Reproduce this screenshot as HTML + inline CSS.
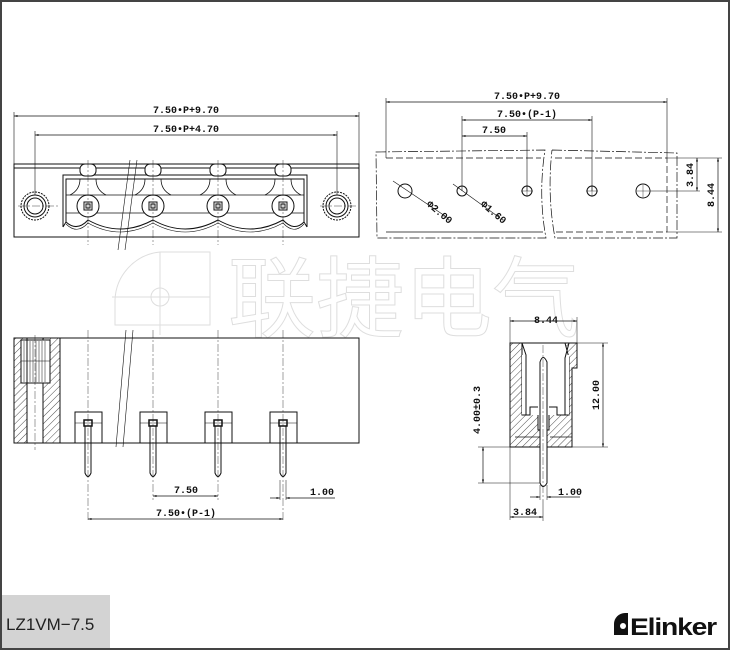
<!DOCTYPE html>
<html><head><meta charset="utf-8"><style>
html,body{margin:0;padding:0;background:#fff}
svg{display:block}
text{font-family:"Liberation Mono",monospace;font-weight:bold;font-size:10px;fill:#111}
</style></head><body>
<svg width="730" height="650" viewBox="0 0 730 650" xmlns="http://www.w3.org/2000/svg">
<defs>
<marker id="a" viewBox="0 0 10 10" refX="10" refY="5" markerWidth="7" markerHeight="5" orient="auto-start-reverse"><path d="M0,2 L10,5 L0,8z" fill="#111"/></marker>
<pattern id="h" width="5" height="5" patternUnits="userSpaceOnUse" patternTransform="rotate(45)"><line x1="0" y1="0" x2="0" y2="5" stroke="#222" stroke-width="0.8"/></pattern>
</defs>
<rect x="1" y="1" width="728" height="648" fill="none" stroke="#444" stroke-width="2"/>

<!-- watermark -->
<g fill="none" stroke="#dedede" stroke-width="1">
<path d="M115,325 L115,300 A50,50 0 0 1 160,252 L210,252 L210,325 Z"/>
<line x1="160" y1="252" x2="160" y2="335"/><line x1="112" y1="297" x2="210" y2="297"/>
<circle cx="160" cy="297" r="9"/>
</g>
<text x="228" y="330" style="font-family:'Noto Sans CJK SC',sans-serif;font-size:88px;font-weight:normal;fill:#fff;stroke:#dedede;stroke-width:1">联捷电气</text>

<g stroke="#111" fill="none" stroke-width="1">
<!-- TOP LEFT VIEW -->
<line x1="14" y1="116" x2="359" y2="116" marker-start="url(#a)" marker-end="url(#a)" stroke-width="0.7"/>
<line x1="35" y1="135" x2="337" y2="135" marker-start="url(#a)" marker-end="url(#a)" stroke-width="0.7"/>
<line x1="14" y1="112" x2="14" y2="164" stroke-width="0.6"/><line x1="359" y1="112" x2="359" y2="164" stroke-width="0.6"/>
<line x1="35" y1="131" x2="35" y2="195" stroke-width="0.6"/><line x1="337" y1="131" x2="337" y2="195" stroke-width="0.6"/>
<rect x="14" y="164" width="345" height="73"/>
<line x1="14" y1="168" x2="359" y2="168"/>
<path d="M63,227 L63,175 L307,175 L307,227"/>
<path d="M66,222 L66,179 L304,179 L304,222"/>
<line x1="66" y1="195" x2="304" y2="195" stroke-width="0.7"/>
<line x1="66" y1="213" x2="304" y2="213" stroke-width="0.7"/>
<path d="M63,227 L66,222 Q77,232 88,220 M88,220 Q120,238 153,220 Q185,238 218,220 Q250,238 283,220 Q294,232 304,222 L307,227" />
<path d="M66,224 Q77,235 88,223 Q120,241 153,223 Q185,241 218,223 Q250,241 283,223 Q294,235 304,224" stroke-width="0.6"/>
<g id="p1">
<rect x="80" y="164" width="16" height="12" rx="5" fill="#fff"/>
<path d="M80,179 Q80,190 70,195" stroke-width="0.8"/><path d="M96,179 Q96,190 106,195" stroke-width="0.8"/>
<circle cx="88" cy="206" r="11" fill="#fff"/><rect x="84" y="202" width="8" height="8"/><rect x="86" y="204" width="4" height="4"/>
</g>
<use href="#p1" x="65"/><use href="#p1" x="130"/><use href="#p1" x="195"/>
<circle cx="35" cy="206" r="14" stroke-dasharray="2,1"/><circle cx="35" cy="206" r="11"/><circle cx="35" cy="206" r="8"/>
<circle cx="337" cy="206" r="14" stroke-dasharray="2,1"/><circle cx="337" cy="206" r="11"/><circle cx="337" cy="206" r="8"/>
<g stroke-width="0.4" stroke-dasharray="8,2,2,2">
<line x1="88" y1="160" x2="88" y2="245"/><line x1="153" y1="160" x2="153" y2="245"/><line x1="218" y1="160" x2="218" y2="245"/><line x1="283" y1="160" x2="283" y2="245"/>
<line x1="18" y1="206" x2="60" y2="206"/><line x1="320" y1="206" x2="356" y2="206"/>
</g>
<path d="M130,160 L118,250 M137,160 L125,250" stroke-width="0.6"/>

<!-- TOP RIGHT VIEW -->
<line x1="386" y1="102" x2="667" y2="102" marker-start="url(#a)" marker-end="url(#a)" stroke-width="0.7"/>
<line x1="462" y1="120" x2="592" y2="120" marker-start="url(#a)" marker-end="url(#a)" stroke-width="0.7"/>
<line x1="462" y1="136" x2="527" y2="136" marker-start="url(#a)" marker-end="url(#a)" stroke-width="0.7"/>
<line x1="386" y1="98" x2="386" y2="158" stroke-width="0.6"/><line x1="667" y1="98" x2="667" y2="158" stroke-width="0.6"/>
<line x1="462" y1="116" x2="462" y2="191" stroke-width="0.6"/><line x1="592" y1="116" x2="592" y2="191" stroke-width="0.6"/>
<line x1="527" y1="132" x2="527" y2="191" stroke-width="0.6"/>
<path d="M376,152 L545,150 Q538,195 546,238 L377,238 Z" stroke-dasharray="10,2,2,2" stroke-width="0.7"/>
<path d="M552,150 L677,153 L677,238 L555,238 Q547,195 552,150" stroke-dasharray="10,2,2,2" stroke-width="0.7"/>
<path d="M386,158 L541,158 M555,158 L667,158 L667,232 L554,232 M543,232 L386,232 Z" stroke-dasharray="7,3" stroke-width="0.7"/>
<circle cx="405" cy="191" r="7"/><circle cx="462" cy="191" r="5"/><circle cx="527" cy="191" r="5"/><circle cx="592" cy="191" r="5"/><circle cx="643" cy="191" r="7"/>
<g stroke-width="0.4"><line x1="521" y1="191" x2="533" y2="191"/><line x1="527" y1="185" x2="527" y2="197"/><line x1="586" y1="191" x2="598" y2="191"/><line x1="592" y1="185" x2="592" y2="197"/><line x1="637" y1="191" x2="649" y2="191"/><line x1="643" y1="185" x2="643" y2="197"/></g>
<line x1="393" y1="181" x2="448" y2="218" stroke-width="0.6"/>
<line x1="453" y1="184" x2="500" y2="218" stroke-width="0.6"/>
<line x1="650" y1="191" x2="700" y2="191" stroke-width="0.6"/>
<line x1="667" y1="158" x2="722" y2="158" stroke-width="0.6"/><line x1="667" y1="232" x2="722" y2="232" stroke-width="0.6"/>
<line x1="697" y1="158" x2="697" y2="191" marker-start="url(#a)" marker-end="url(#a)" stroke-width="0.7"/>
<line x1="718" y1="158" x2="718" y2="232" marker-start="url(#a)" marker-end="url(#a)" stroke-width="0.7"/>

<!-- BOTTOM LEFT VIEW -->
<rect x="14" y="338" width="345" height="105"/>
<rect x="14" y="338" width="13" height="105" fill="url(#h)"/>
<rect x="43" y="338" width="17" height="105" fill="url(#h)"/>
<rect x="21" y="340" width="29" height="43" fill="#fff"/>
<g stroke-width="0.5"><line x1="24" y1="341" x2="24" y2="382"/><line x1="27" y1="341" x2="27" y2="382"/><line x1="30" y1="341" x2="30" y2="382"/><line x1="33" y1="341" x2="33" y2="382"/><line x1="36" y1="341" x2="36" y2="382"/><line x1="39" y1="341" x2="39" y2="382"/><line x1="42" y1="341" x2="42" y2="382"/><line x1="45" y1="341" x2="45" y2="382"/><line x1="21" y1="361" x2="50" y2="361"/></g>
<line x1="27" y1="338" x2="27" y2="443"/><line x1="43" y1="383" x2="43" y2="443"/><line x1="60" y1="338" x2="60" y2="443"/>
<g id="b1">
<rect x="75" y="412" width="27" height="31"/>
<line x1="75" y1="423" x2="102" y2="423" stroke-width="0.6"/>
<rect x="84" y="420" width="8" height="6" stroke-width="1.5"/>
<path d="M85,426 L85,473 Q88,480 91,473 L91,426" />
</g>
<use href="#b1" x="65"/><use href="#b1" x="130"/><use href="#b1" x="195"/>
<g stroke-width="0.4" stroke-dasharray="8,2,2,2">
<line x1="88" y1="330" x2="88" y2="520"/><line x1="153" y1="330" x2="153" y2="500"/><line x1="218" y1="330" x2="218" y2="500"/><line x1="283" y1="330" x2="283" y2="520"/><line x1="35" y1="335" x2="35" y2="450"/>
</g>
<path d="M126,330 L116,447 M133,330 L123,447" stroke-width="0.6"/>
<line x1="153" y1="496" x2="218" y2="496" marker-start="url(#a)" marker-end="url(#a)" stroke-width="0.7"/>
<line x1="88" y1="519" x2="283" y2="519" marker-start="url(#a)" marker-end="url(#a)" stroke-width="0.7"/>
<line x1="270" y1="498" x2="280" y2="498" marker-end="url(#a)" stroke-width="0.7"/>
<line x1="335" y1="498" x2="286" y2="498" marker-end="url(#a)" stroke-width="0.7"/>
<line x1="280" y1="480" x2="280" y2="500" stroke-width="0.5"/><line x1="286" y1="480" x2="286" y2="500" stroke-width="0.5"/>

<!-- BOTTOM RIGHT VIEW -->
<line x1="510" y1="321" x2="577" y2="321" marker-start="url(#a)" marker-end="url(#a)" stroke-width="0.7"/>
<line x1="510" y1="317" x2="510" y2="520" stroke-width="0.5"/><line x1="577" y1="317" x2="577" y2="343" stroke-width="0.5"/>
<path d="M510,343 L522,343 L522,353 L522,415 L530,415 L530,407 L538,407 L538,430 L540,430 L540,447 L510,447 Z" fill="url(#h)"/>
<path d="M510,343 L577,343 L577,368 L572,368 L572,447 L547,447 L547,430 L549,430 L549,407 L557,407 L557,415 L569,415 L569,358 L565,343" fill="url(#h)"/>
<rect x="522" y="355" width="47" height="60" fill="#fff" stroke="none"/>
<path d="M522,343 L526,355 L526,415 M569,343 L565,358 L565,415 M522,415 L530,415 L530,407 L538,407 M549,407 L557,407 L557,415 L569,415"/>
<line x1="515" y1="437" x2="540" y2="437" stroke-width="0.7"/>
<line x1="550" y1="437" x2="572" y2="437" stroke-width="0.7"/>
<path d="M540,483 L540,362 Q543,353 547,362 L547,483 Q543,490 540,483" fill="#fff"/>
<line x1="543" y1="345" x2="543" y2="500" stroke-width="0.4" stroke-dasharray="8,2,2,2"/>
<line x1="577" y1="343" x2="608" y2="343" stroke-width="0.5"/><line x1="572" y1="447" x2="608" y2="447" stroke-width="0.5"/>
<line x1="603" y1="343" x2="603" y2="447" marker-start="url(#a)" marker-end="url(#a)" stroke-width="0.7"/>
<line x1="478" y1="447" x2="510" y2="447" stroke-width="0.5"/><line x1="478" y1="483" x2="540" y2="483" stroke-width="0.5"/>
<line x1="483" y1="447" x2="483" y2="483" marker-start="url(#a)" marker-end="url(#a)" stroke-width="0.7"/>
<line x1="530" y1="497" x2="540" y2="497" marker-end="url(#a)" stroke-width="0.7"/>
<line x1="580" y1="497" x2="547" y2="497" marker-end="url(#a)" stroke-width="0.7"/>
<line x1="540" y1="485" x2="540" y2="500" stroke-width="0.5"/><line x1="547" y1="485" x2="547" y2="500" stroke-width="0.5"/>
<line x1="510" y1="517" x2="543" y2="517" marker-start="url(#a)" marker-end="url(#a)" stroke-width="0.7"/>
<line x1="543" y1="500" x2="543" y2="521" stroke-width="0.5"/>
</g>

<text x="186" y="113" text-anchor="middle">7.50•P+9.70</text>
<text x="186" y="132" text-anchor="middle">7.50•P+4.70</text>
<text x="527" y="99" text-anchor="middle">7.50•P+9.70</text>
<text x="527" y="117" text-anchor="middle">7.50•(P-1)</text>
<text x="494" y="133" text-anchor="middle">7.50</text>
<text transform="translate(426,205) rotate(40)">Φ2.00</text>
<text transform="translate(480,205) rotate(40)">Φ1.60</text>
<text transform="translate(693,175) rotate(-90)" text-anchor="middle">3.84</text>
<text transform="translate(714,195) rotate(-90)" text-anchor="middle">8.44</text>
<text x="186" y="493" text-anchor="middle">7.50</text>
<text x="322" y="495" text-anchor="middle">1.00</text>
<text x="186" y="516" text-anchor="middle">7.50•(P-1)</text>
<text x="546" y="323" text-anchor="middle">8.44</text>
<text transform="translate(599,395) rotate(-90)" text-anchor="middle">12.00</text>
<text transform="translate(480,410) rotate(-90)" text-anchor="middle">4.00±0.3</text>
<text x="570" y="495" text-anchor="middle">1.00</text>
<text x="525" y="515" text-anchor="middle">3.84</text>

<rect x="2" y="595" width="108" height="53" fill="#d3d3d3"/>
<text x="6" y="630" style="font-family:'Liberation Sans',sans-serif;font-weight:normal;font-size:17px;fill:#222">LZ1VM−7.5</text>
<g transform="translate(614,613)">
<path d="M0,22 L0,11 A11,11 0 0 1 11,0 L14,0 L14,22 Z" fill="#111"/>
<circle cx="9" cy="13" r="3" fill="#fff"/>
</g>
<text x="630" y="635" style="font-family:'Liberation Sans',sans-serif;font-weight:bold;font-size:24px;fill:#111;letter-spacing:-1px" textLength="86" lengthAdjust="spacingAndGlyphs">Elinker</text>
</svg>
</body></html>
